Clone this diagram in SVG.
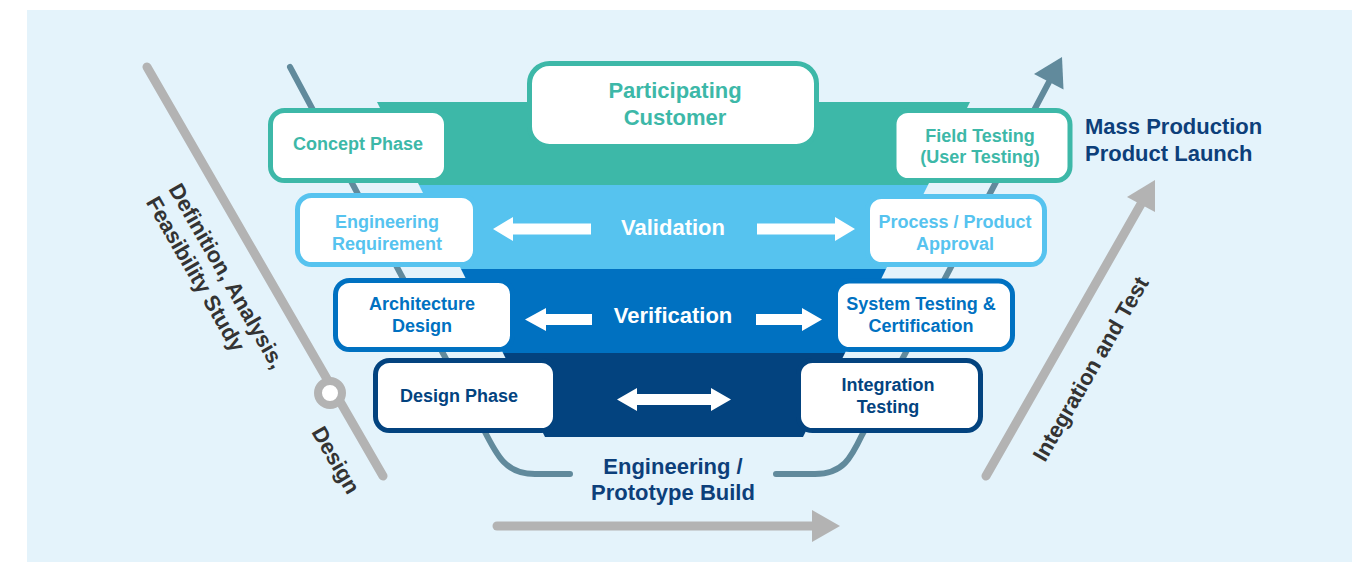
<svg xmlns="http://www.w3.org/2000/svg" width="1370" height="562" viewBox="0 0 1370 562">
<style>
.t{font-family:"Liberation Sans",Arial,sans-serif;font-weight:bold;text-anchor:middle}
.s18{font-size:18px}
.s22{font-size:22px}
.box{fill:#ffffff;stroke-width:5}
.teal{stroke:#3db8a8}
.lb{stroke:#56c3ef}
.mb{stroke:#0071c1}
.db{stroke:#03437f}
.gray{stroke:#b3b3b3;stroke-width:9;stroke-linecap:round;fill:none}
.steel{stroke:#618a9c;stroke-width:6;stroke-linecap:round;fill:none}
.rot{font-family:"Liberation Sans",Arial,sans-serif;font-weight:bold;font-size:22px;fill:#333333}
</style>
<rect x="27" y="10" width="1325" height="552" fill="#e4f3fb"/>
<g id="connectors">
  <line class="gray" x1="147" y1="67" x2="383" y2="476"/>
  <circle cx="330" cy="393" r="12" fill="#ffffff" stroke="#b3b3b3" stroke-width="8"/>
  <line class="gray" x1="986" y1="476" x2="1141" y2="204"/>
  <polygon points="1155,180 1127,197 1155,212" fill="#b3b3b3"/>
  <line class="gray" x1="497" y1="526" x2="814" y2="526"/>
  <polygon points="840,526 812,510 812,542" fill="#b3b3b3"/>
  <path class="steel" d="M290,67 L484,430 C497,456 506,474 535,474 L570,474"/>
  <path class="steel" d="M776,474 L815,474 C843,474 851,458 862,435 L1049,82"/>
  <polygon points="1062,57 1034,74 1063.5,89.5" fill="#618a9c"/>
</g>
<g id="bands">
  <polygon points="377,102 970,102 928,185 419,185" fill="#3db8a8"/>
  <polygon points="419,185 928,185 886,269 461,269" fill="#56c3ef"/>
  <polygon points="461,269 886,269 845,353 503,353" fill="#0071c1"/>
  <polygon points="503,353 845,353 803,437 545,437" fill="#03437f"/>
</g>
<g id="band-arrows" fill="#ffffff">
  <polygon points="493,229 513,217 513,223.5 591,223.5 591,234.5 513,234.5 513,241"/>
  <polygon points="757,223.5 835,223.5 835,217 855,229 835,241 835,234.5 757,234.5"/>
  <polygon points="525,319.5 546,308 546,314 592,314 592,325 546,325 546,331"/>
  <polygon points="756,314 802,314 802,308 822,319.5 802,331 802,325 756,325"/>
  <polygon points="617,399.5 637,388 637,394 711,394 711,388 731,399.5 711,411 711,405 637,405 637,411"/>
</g>
<g id="validation"><text class="t s22" x="673" y="235" fill="#ffffff">Validation</text></g>
<g id="verification"><text class="t s22" x="673" y="323" fill="#ffffff">Verification</text></g>
<g id="participating-customer">
  <rect class="box teal" x="529.5" y="63.5" width="287" height="83" rx="20"/>
  <text class="t s22" fill="#3db8a8"><tspan x="675" y="98">Participating</tspan><tspan x="675" y="125">Customer</tspan></text>
</g>
<g id="concept-phase">
  <rect class="box teal" x="270.5" y="110.5" width="176" height="70" rx="14"/>
  <text class="t s18" x="358" y="149.5" fill="#3db8a8">Concept Phase</text>
</g>
<g id="field-testing">
  <rect class="box teal" x="894" y="110.5" width="176" height="70" rx="14"/>
  <text class="t s18" fill="#3db8a8"><tspan x="980" y="141.5">Field Testing</tspan><tspan x="980" y="163">(User Testing)</tspan></text>
</g>
<g id="engineering-requirement">
  <rect class="box lb" x="297.5" y="195.5" width="178" height="69" rx="14"/>
  <text class="t s18" fill="#56c3ef"><tspan x="387" y="228">Engineering</tspan><tspan x="387" y="249.5">Requirement</tspan></text>
</g>
<g id="process-product-approval">
  <rect class="box lb" x="867.5" y="196.5" width="177" height="68" rx="14"/>
  <text class="t s18" fill="#56c3ef"><tspan x="955" y="228">Process / Product</tspan><tspan x="955" y="249.5">Approval</tspan></text>
</g>
<g id="architecture-design">
  <rect class="box mb" x="335.5" y="280.5" width="177" height="69" rx="14"/>
  <text class="t s18" fill="#0071c1"><tspan x="422" y="310">Architecture</tspan><tspan x="422" y="332">Design</tspan></text>
</g>
<g id="system-testing">
  <rect class="box mb" x="835.5" y="281" width="177" height="68.5" rx="14"/>
  <text class="t s18" fill="#0071c1"><tspan x="921" y="310">System Testing &amp;</tspan><tspan x="921" y="332">Certification</tspan></text>
</g>
<g id="design-phase">
  <rect class="box db" x="375.5" y="360.5" width="180" height="70" rx="14"/>
  <text class="t s18" x="459" y="402" fill="#03437f">Design Phase</text>
</g>
<g id="integration-testing">
  <rect class="box db" x="798.5" y="360.5" width="182" height="70" rx="14"/>
  <text class="t s18" fill="#03437f"><tspan x="888" y="391">Integration</tspan><tspan x="888" y="413">Testing</tspan></text>
</g>
<g id="engineering-prototype">
  <text class="t s22" fill="#0d3f7a"><tspan x="673" y="474">Engineering /</tspan><tspan x="673" y="500">Prototype Build</tspan></text>
</g>
<g id="mass-production">
  <text class="s22" font-family="Liberation Sans, Arial, sans-serif" font-weight="bold" fill="#0d3f7a"><tspan x="1085" y="134">Mass Production</tspan><tspan x="1085" y="161">Product Launch</tspan></text>
</g>
<g id="definition-label">
  <text class="rot" transform="translate(168,189) rotate(60)"><tspan x="0" y="0">Definition, Analysis,</tspan><tspan x="0" y="26">Feasibility Study</tspan></text>
</g>
<g id="design-label">
  <text class="rot" transform="translate(311,432) rotate(60)">Design</text>
</g>
<g id="integration-label">
  <text class="rot" transform="translate(1045,463) rotate(-60)">Integration and Test</text>
</g>
</svg>
